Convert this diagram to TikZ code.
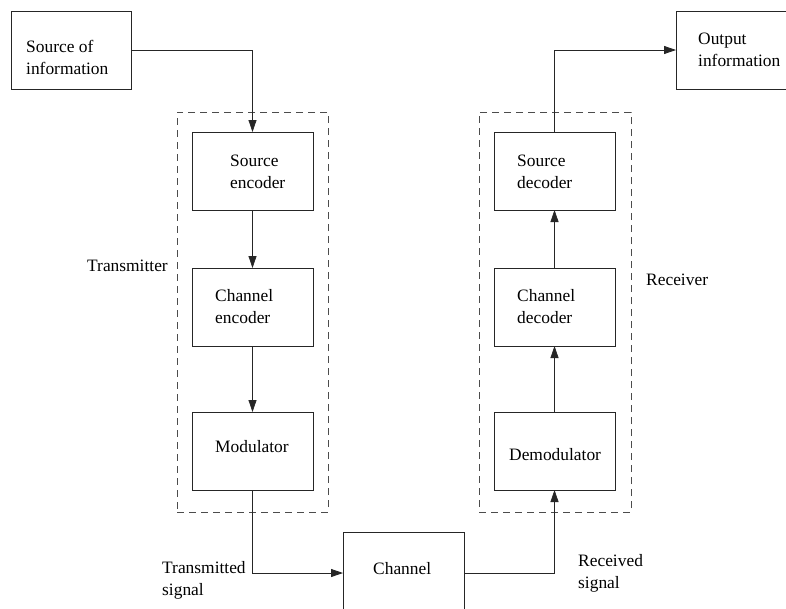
\documentclass[tikz,border=0pt]{standalone}
\usepackage{fontspec}
\setmainfont{Liberation Serif}
\usetikzlibrary{arrows.meta}
\tikzset{
  blk/.style={draw=black!85, line width=0.8pt, minimum width=121pt, minimum height=78pt, inner sep=0pt, outer sep=0pt, anchor=north west},
  grp/.style={draw=black!70, dash pattern=on 7pt off 5pt, line width=0.8pt, inner sep=0pt, outer sep=0pt, anchor=north west},
  txt/.style={align=left, inner sep=0pt, anchor=north west, font=\fontsize{17.4}{22}\selectfont},
  arr/.style={-{Triangle[length=12pt,width=8pt]}, line width=0.8pt, draw=black!85},
}
\begin{document}
\begin{tikzpicture}[x=1pt,y=-1pt]
\clip (0,0) rectangle (786,608);
\fill[white] (0,0) rectangle (786,608);
% groups
\node[grp, minimum width=151pt, minimum height=400pt] (tx) at (177,112) {};
\node[grp, minimum width=152pt, minimum height=400pt] (rx) at (479,112) {};
% blocks
\node[blk, minimum width=120pt] (soi) at (11,11) {};
\node[blk, minimum width=110pt] (out) at (676,11) {};
\node[blk] (senc) at (192,132) {};
\node[blk] (cenc) at (192,268) {};
\node[blk] (mod) at (192,412) {};
\node[blk] (sdec) at (494,132) {};
\node[blk] (cdec) at (494,268) {};
\node[blk] (demod) at (494,412) {};
\node[blk, minimum height=82pt] (chan) at (343,532) {};
% texts
\node[txt] (soit) at (26,40) {Source of\\information};
\node[txt] (outt) at (698,33) {Output\\information};
\node[txt] (senct) at (230,155) {Source\\encoder};
\node[txt] (cenct) at (215,289) {Channel\\encoder};
\node[txt] (modt) at (215,440) {Modulator};
\node[txt] (sdect) at (517,155) {Source\\decoder};
\node[txt] (cdect) at (517,289) {Channel\\decoder};
\node[txt] (demodt) at (509,448) {Demodulator};
\node[txt] (chant) at (373,562) {Channel};
\node[txt] (txl) at (87,260) {Transmitter};
\node[txt] (rxl) at (646,274) {Receiver};
\node[txt] (tsig) at (162,561) {Transmitted\\signal};
\node[txt] (rsig) at (578,554) {Received\\signal};
% connectors
\draw[arr] (soi.east) -| (senc.north);
\draw[arr] (senc.south) -- (cenc.north);
\draw[arr] (cenc.south) -- (mod.north);
\draw[arr] (mod.south) |- (chan.west);
\draw[arr] (chan.east) -| (demod.south);
\draw[arr] (demod.north) -- (cdec.south);
\draw[arr] (cdec.north) -- (sdec.south);
\draw[arr] (sdec.north) |- (out.west);
\end{tikzpicture}
\end{document}
